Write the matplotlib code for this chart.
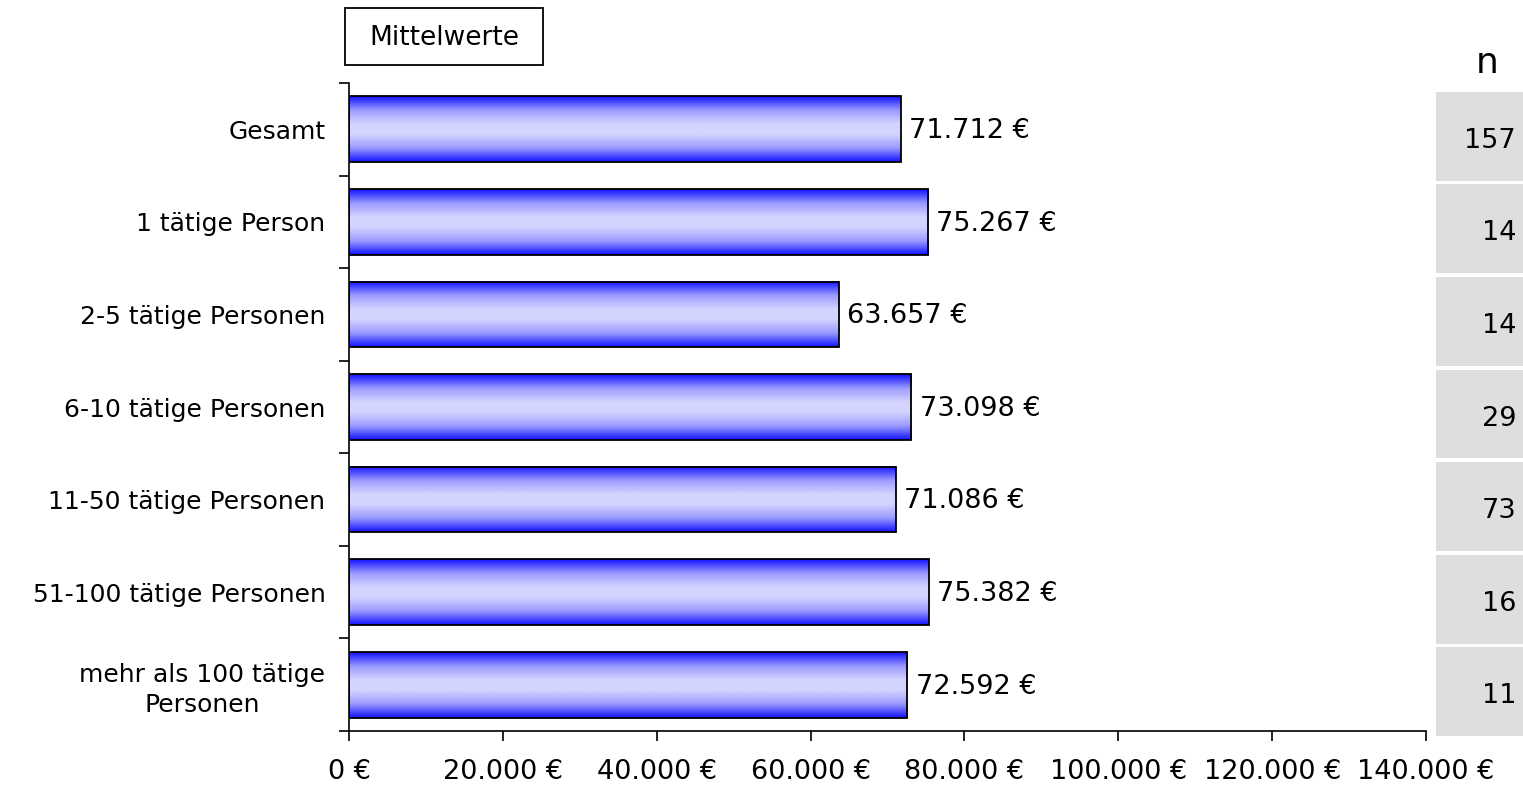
import numpy as np
import matplotlib.pyplot as plt
from matplotlib.colors import LinearSegmentedColormap
from matplotlib.patches import Rectangle

# data
categories = ["Gesamt", "1 tätige Person", "2-5 tätige Personen", "6-10 tätige Personen",
              "11-50 tätige Personen", "51-100 tätige Personen", "mehr als 100 tätige\nPersonen"]
means = [71712, 75267, 63657, 73098, 71086, 75382, 72592]
n_values = [157, 14, 14, 29, 73, 16, 11]
xticks = [0, 20000, 40000, 60000, 80000, 100000, 120000, 140000]

def eur(v):
    return f"{v:,.0f} €".replace(",", ".")

W, H = 1523, 786
fig = plt.figure(figsize=(W / 100, H / 100), dpi=100)
plt.rcParams['font.family'] = ['DejaVu Sans']

ax = fig.add_axes([349 / W, (H - 731) / H, (1426 - 349) / W, (731 - 83) / H])

# vertical gradient for the bars: blue at edges, pale in the middle
t = np.linspace(0, 1, 300)
grad = np.clip((np.abs(2 * t - 1) - 0.15) / 0.85, 0, 1)
cmap = LinearSegmentedColormap.from_list("bargrad", ["#d4d4ff", "#9a9aff", "#1010ff"])
bar_h = 0.71
ypos = np.arange(len(categories))
for y, v in zip(ypos, means):
    ax.imshow(grad.reshape(-1, 1), cmap=cmap, aspect='auto', interpolation='bilinear',
              extent=[0, v, y + bar_h / 2, y - bar_h / 2], zorder=2)
ax.barh(ypos, means, height=bar_h, facecolor='none', edgecolor='black', linewidth=1.3, zorder=3)

for y, v in zip(ypos, means):
    ax.text(v + 1100, y + 0.02, eur(v), va='center', ha='left', fontsize=19.5, zorder=4)

ax.set_xlim(0, 140000)
ax.set_ylim(len(categories) - 0.5, -0.5)
ax.set_xticks(xticks)
ax.set_xticklabels([eur(x) for x in xticks], fontsize=19.5)
ax.set_yticks(ypos)
ax.set_yticklabels(categories, fontsize=18, linespacing=1.3, ha='right', multialignment='center')
ax.set_yticks(np.arange(-0.5, len(categories)), minor=True)
ax.tick_params(axis='y', which='major', length=0, pad=17)
ax.tick_params(axis='y', which='minor', length=7, width=1.2, direction='out')
ax.tick_params(axis='x', length=7, width=1.2, direction='out', pad=13)
for s in ['top', 'right']:
    ax.spines[s].set_visible(False)
for s in ['left', 'bottom']:
    ax.spines[s].set_linewidth(1.2)

# n column
axn = fig.add_axes([1436 / W, (H - 738) / H, (W - 1436) / W, (738 - 90) / H])
axn.barh(ypos, [1] * len(n_values), height=0.96, color='#dedede', left=0)
for y, n in zip(ypos, n_values):
    axn.text(0.92, y + 0.05, str(n), ha='right', va='center', fontsize=19.5)
axn.set_xlim(0, 1)
axn.set_ylim(len(n_values) - 0.5, -0.5)
axn.axis('off')
fig.text(1487 / W, 1 - 63 / H, "n", ha='center', va='center', fontsize=26)

# title box
fig.patches.append(Rectangle((345 / W, 1 - 65 / H), 198 / W, 57 / H, transform=fig.transFigure,
                             facecolor='white', edgecolor='black', linewidth=1.3))
fig.text(444 / W, 1 - 38 / H, "Mittelwerte", ha='center', va='center', fontsize=19)

fig.savefig("out.png", dpi=100)
